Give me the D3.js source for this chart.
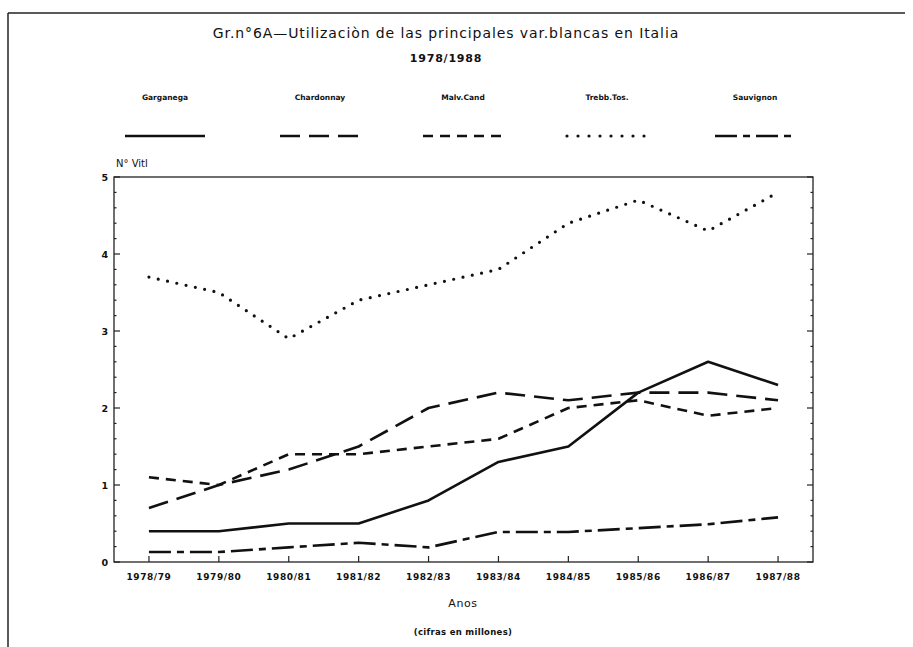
<!DOCTYPE html>
<html>
<head>
<meta charset="utf-8">
<script src="https://cdn.jsdelivr.net/npm/d3@7"></script>
<style>
  body { margin: 0; background: #fff; }
  text { font-family: "DejaVu Sans", sans-serif; fill: #111; }
</style>
</head>
<body>
<script>
// data
var seasons = ["1978/79","1979/80","1980/81","1981/82","1982/83","1983/84","1984/85","1985/86","1986/87","1987/88"];
var garganega  = [0.4, 0.4, 0.5, 0.5, 0.8, 1.3, 1.5, 2.2, 2.6, 2.3];
var chardonnay = [0.7, 1.0, 1.2, 1.5, 2.0, 2.2, 2.1, 2.2, 2.2, 2.1];
var malvCand   = [1.1, 1.0, 1.4, 1.4, 1.5, 1.6, 2.0, 2.1, 1.9, 2.0];
var trebbTos   = [3.7, 3.5, 2.9, 3.4, 3.6, 3.8, 4.4, 4.7, 4.3, 4.8];
var sauvignon  = [0.13, 0.13, 0.19, 0.25, 0.19, 0.39, 0.39, 0.44, 0.49, 0.58];
var seriesNames = ["Garganega", "Chardonnay", "Malv.Cand", "Trebb.Tos.", "Sauvignon"];
var yTicks = [0, 1, 2, 3, 4, 5];

var W = 913, H = 647;
var margin = {top: 177, right: 100, bottom: 85, left: 114};

var svg = d3.select("body").append("svg")
    .attr("width", W).attr("height", H);

// page frame (top and left edge)
svg.append("line").attr("x1", 8).attr("y1", 13).attr("x2", 905).attr("y2", 13)
   .attr("stroke", "#222").attr("stroke-width", 1.5);
svg.append("line").attr("x1", 8).attr("y1", 13).attr("x2", 8).attr("y2", H)
   .attr("stroke", "#222").attr("stroke-width", 1.5);

var x = d3.scaleLinear().domain([-0.5, seasons.length - 0.5]).range([margin.left, W - margin.right]);
var y = d3.scaleLinear().domain([0, 5]).range([H - margin.bottom, margin.top]);

var styles = [
  {dash: null, cap: "butt"},
  {dash: "20,9", cap: "butt"},
  {dash: "10,7", cap: "butt"},
  {dash: "0,9.5", cap: "round"},
  {dash: "22,6,7,6", cap: "butt"}
];
var allSeries = [garganega, chardonnay, malvCand, trebbTos, sauvignon];

// titles
svg.append("text").attr("x", 446).attr("y", 38).attr("text-anchor", "middle")
   .style("font-size", "14px").style("letter-spacing", "0.9px")
   .text("Gr.n°6A—Utilizaciòn de las principales var.blancas en Italia");
svg.append("text").attr("x", 446).attr("y", 62).attr("text-anchor", "middle")
   .style("font-size", "11px").style("font-weight", "bold").style("letter-spacing", "0.8px")
   .text("1978/1988");

// legend
var legX = [165, 320, 463, 607, 755];
seriesNames.forEach(function(n, i) {
  svg.append("text").attr("x", legX[i]).attr("y", 100).attr("text-anchor", "middle")
     .style("font-size", "7.5px").style("font-weight", "bold").text(n);
  svg.append("line")
     .attr("x1", legX[i] - 40).attr("x2", legX[i] + 40)
     .attr("y1", 136).attr("y2", 136)
     .attr("stroke", "#111").attr("stroke-width", i == 3 ? 3.2 : 2.6)
     .attr("stroke-dasharray", i == 3 ? "0,11" : styles[i].dash)
     .attr("stroke-linecap", styles[i].cap);
});

// axes
var y0 = y(0), y5 = y(5), xl = x.range()[0], xr = x.range()[1];
svg.append("rect").attr("x", xl).attr("y", y5).attr("width", xr - xl).attr("height", y0 - y5)
   .attr("fill", "none").attr("stroke", "#222").attr("stroke-width", 1.3);

var minor = d3.range(0, 5.001, 0.2);
svg.append("g").selectAll("line.ml").data(minor).enter().append("line")
   .attr("x1", xl).attr("x2", function(d) { return xl + (Math.abs(d - Math.round(d)) < 1e-6 ? 6 : 2.5); })
   .attr("y1", function(d) { return y(d); }).attr("y2", function(d) { return y(d); })
   .attr("stroke", "#222").attr("stroke-width", 1.2);
svg.append("g").selectAll("line.mr").data(minor).enter().append("line")
   .attr("x1", xr).attr("x2", function(d) { return xr - (Math.abs(d - Math.round(d)) < 1e-6 ? 6 : 2.5); })
   .attr("y1", function(d) { return y(d); }).attr("y2", function(d) { return y(d); })
   .attr("stroke", "#222").attr("stroke-width", 1.2);

svg.append("g").selectAll("text").data(yTicks).enter().append("text")
   .attr("x", xl - 6).attr("y", function(d) { return y(d) + 3.5; })
   .attr("text-anchor", "end").style("font-size", "9.5px").style("font-weight", "bold")
   .text(function(d) { return d; });

svg.append("g").selectAll("line").data(seasons).enter().append("line")
   .attr("x1", function(d, i) { return x(i); }).attr("x2", function(d, i) { return x(i); })
   .attr("y1", y0).attr("y2", y0 - 6)
   .attr("stroke", "#222").attr("stroke-width", 1.2);
svg.append("g").selectAll("text").data(seasons).enter().append("text")
   .attr("x", function(d, i) { return x(i); }).attr("y", y0 + 18)
   .attr("text-anchor", "middle").style("font-size", "9px").style("font-weight", "bold")
   .style("letter-spacing", "0.6px")
   .text(function(d) { return d; });

svg.append("text").attr("x", xl + 2).attr("y", 167).style("font-size", "10px").text("N° Vitl");
svg.append("text").attr("x", 463).attr("y", 607).attr("text-anchor", "middle")
   .style("font-size", "11px").style("letter-spacing", "0.6px").text("Anos");
svg.append("text").attr("x", 463).attr("y", 635).attr("text-anchor", "middle")
   .style("font-size", "8.5px").style("font-weight", "bold").style("letter-spacing", "0.3px")
   .text("(cifras en millones)");

// series
var line = d3.line().x(function(d, i) { return x(i); }).y(function(d) { return y(d); });
allSeries.forEach(function(s, i) {
  svg.append("path").datum(s)
     .attr("d", line)
     .attr("fill", "none").attr("stroke", "#111")
     .attr("stroke-width", i == 3 ? 3.2 : 2.6)
     .attr("stroke-linejoin", "round")
     .attr("stroke-dasharray", styles[i].dash)
     .attr("stroke-linecap", styles[i].cap);
});
</script>
</body>
</html>
